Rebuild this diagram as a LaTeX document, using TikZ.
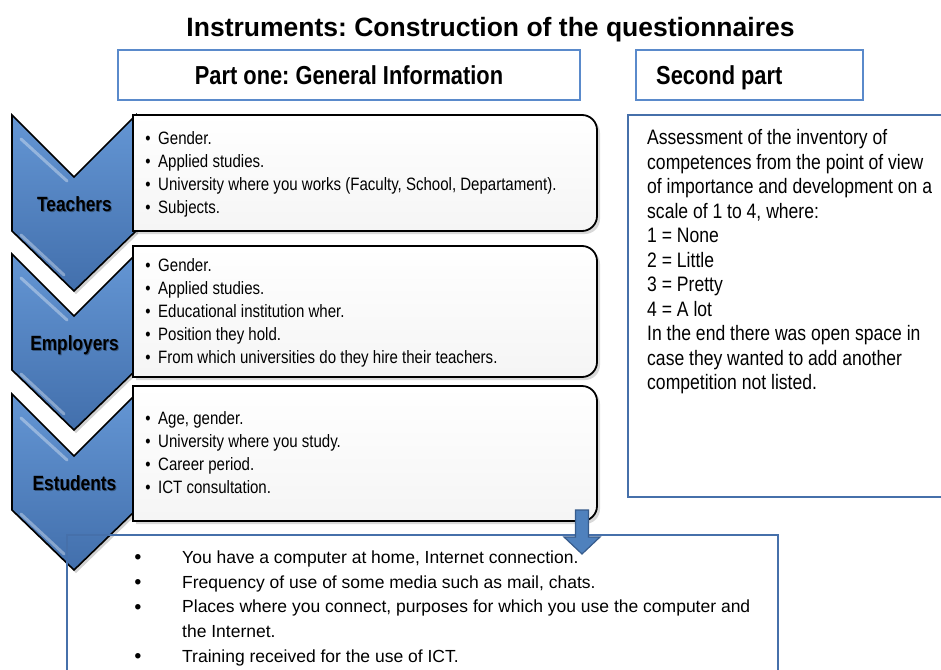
\documentclass[tikz,border=0pt]{standalone}
\usepackage{fontspec}
\setmainfont{Liberation Sans}
\newfontfamily\narrowfont[FakeStretch=0.84]{Liberation Sans}
\usetikzlibrary{shadows}
\frenchspacing

\definecolor{chevblue}{HTML}{4F81BD}
\definecolor{chevlight}{HTML}{6496D4}
\definecolor{chevdark}{HTML}{426FAC}
\definecolor{headblue}{HTML}{5A8ACB}
\definecolor{frameblue}{HTML}{4670AA}
\definecolor{arrowedge}{HTML}{375C8C}

\tikzset{
  txt/.style={inner sep=0pt, anchor=base west},
  itemtxt/.style={txt, font=\narrowfont\fontsize{17.9}{20}\selectfont},
  itemdot/.style={inner sep=0pt, anchor=base, font=\narrowfont\fontsize{17.9}{20}\selectfont},
  sidetxt/.style={txt, font=\narrowfont\fontsize{20.9}{24}\selectfont},
  lowtxt/.style={txt, font=\fontsize{17.5}{20}\selectfont},
  lowdot/.style={inner sep=0pt, anchor=base, font=\bfseries\fontsize{19}{20}\selectfont},
  headtxt/.style={inner sep=0pt, font=\narrowfont\bfseries\fontsize{26}{30}\selectfont},
  chevtxt/.style={inner sep=0pt, anchor=base, font=\narrowfont\bfseries\fontsize{20.6}{24}\selectfont},
  headbox/.style={draw=headblue, line width=1.8pt, fill=white},
  framebox/.style={draw=frameblue, line width=1.4pt},
  chevfill/.style={top color=chevlight, bottom color=chevdark, draw=black, line width=1.6pt, line join=miter},
  listbox/.style={top color=white, bottom color=black!4, draw=black, line width=1.8pt},
  gloss/.style={white, opacity=0.35, line width=3pt, line cap=round},
}

\begin{document}
\begin{tikzpicture}[x=1pt,y=-1pt]
\useasboundingbox (0,0) rectangle (941,669);
\clip (0,0) rectangle (941,669);

% title
\node[inner sep=0pt, anchor=base, font=\bfseries\fontsize{26.5}{30}\selectfont] (title) at (490.5,36.5)
  {Instruments: Construction of the questionnaires};

% section headings
\draw[headbox] (118,50) rectangle (580,100);
\node[headtxt, anchor=base] (partone) at (349,84.3) {Part one: General Information};
\draw[headbox] (636,50) rectangle (863,100);
\node[headtxt, anchor=base west] (parttwo) at (656,84.3) {Second part};

% chevrons with group labels
\foreach \t/\lab/\nm in {115/Teachers/chevA, 254/Employers/chevB, 394/Estudents/chevC}{
  \begin{scope}[shift={(12,\t)}]
    \fill[black, opacity=0.18] (2,3) -- (64,65) -- (126,3) -- (126,119) -- (64,179) -- (2,119) -- cycle;
    \path[chevfill] (0,0) -- (62,62) -- (124,0) -- (124,116) -- (62,176) -- (0,116) -- cycle;
    \draw[gloss] (9,24) -- (55,66);
    \draw[gloss] (9,120) -- (52,160);
    \node[chevtxt, text=black, opacity=0.35] at (63.5,97.4) {\lab};
    \node[chevtxt] (\nm) at (62.5,96.4) {\lab};
  \end{scope}
}

% rounded list boxes (right corners rounded)
\foreach \t/\b in {115/231, 246/377, 386/521}{
  \fill[black, opacity=0.15] (136,\t+3) -- (585,\t+3) arc(-90:0:15) -- (600,\b-12) arc(0:90:15) -- (136,\b+3) -- cycle;
  \path[listbox] (133,\t) -- (582,\t) arc(-90:0:15) -- (597,\b-15) arc(0:90:15) -- (133,\b) -- cycle;
}

% Teachers items
\foreach \y/\s [count=\i] in {138/{Gender.}, 161/{Applied studies.},
    184/{University where you works (Faculty, School, Departament).}, 207/{Subjects.}}{
  \node[itemdot] (ta\i) at (148,\y+6.4) {\textbullet};
  \node[itemtxt] (tb\i) at (158,\y+6.4) {\s};
}
% Employers items
\foreach \y/\s [count=\i] in {265/{Gender.}, 288/{Applied studies.},
    311/{Educational institution wher.}, 334/{Position they hold.},
    357/{From which universities do they hire their teachers.}}{
  \node[itemdot] (ea\i) at (148,\y+6.4) {\textbullet};
  \node[itemtxt] (eb\i) at (158,\y+6.4) {\s};
}
% Students items
\foreach \y/\s [count=\i] in {418/{Age, gender.}, 441/{University where you study.},
    464/{Career period.}, 487/{ICT consultation.}}{
  \node[itemdot] (sa\i) at (148,\y+6.4) {\textbullet};
  \node[itemtxt] (sb\i) at (158,\y+6.4) {\s};
}

% second part frame
\draw[framebox] (628,115) rectangle (960,497);
\foreach \y/\s [count=\i] in {137/{Assessment of the inventory of},
    161.5/{competences from the point of view},
    186/{of importance and development on a},
    210.5/{scale of 1 to 4, where:},
    235/{1 = None}, 259.5/{2 = Little}, 284/{3 = Pretty}, 308.5/{4 = A lot},
    333/{In the end there was open space in},
    357.5/{case they wanted to add another},
    382/{competition not listed.}}{
  \node[sidetxt] (r\i) at (647,\y+7.5) {\s};
}

% lower frame with extra questions
\draw[framebox] (67,535) rectangle (778,690);
\foreach \y/\s/\d [count=\i] in {557/{You have a computer at home, Internet connection.}/1,
    581.8/{Frequency of use of some media such as mail, chats.}/1,
    606.6/{Places where you connect, purposes for which you use the computer and}/1,
    631.4/{the Internet.}/0,
    656.2/{Training received for the use of ICT.}/1}{
  \ifnum\d=1 \node[lowdot] (la\i) at (138,\y+6.6) {\textbullet}; \fi
  \node[lowtxt] (lb\i) at (182,\y+6.3) {\s};
}

% block arrow from the students box down to the lower frame
\path[fill=chevblue, draw=arrowedge, line width=1.2pt, line join=miter]
  (575.5,510) -- (588.5,510) -- (588.5,537) -- (600,537) -- (582,554)
  -- (564,537) -- (575.5,537) -- cycle;
\end{tikzpicture}
\end{document}
